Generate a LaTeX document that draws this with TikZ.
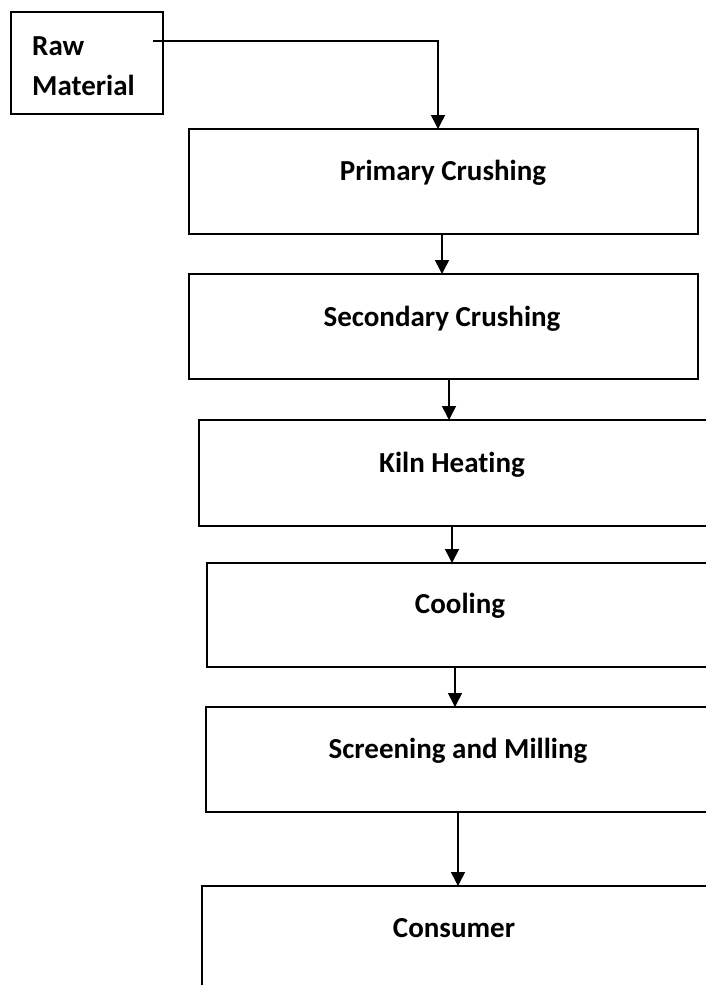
\documentclass[tikz,border=0pt]{standalone}
\usepackage{fontspec}
\setmainfont[Ligatures=NoCommon]{Carlito}
\usetikzlibrary{arrows.meta}
\begin{document}
\begin{tikzpicture}[x=1pt,y=-1pt,
  boxst/.style={draw=black,line width=2.2pt,fill=none},
  lbl/.style={font=\bfseries\fontsize{29}{40}\selectfont,anchor=base,inner sep=0pt},
  arr/.style={line width=1.6pt,-{Triangle[width=14pt,length=14pt]}}]
\useasboundingbox (0,0) rectangle (706,985);
\clip (0,0) rectangle (706,985);
\fill[white] (0,0) rectangle (706,985);
% boxes
\draw[boxst] (11,12) rectangle (163,114);
\node[inner sep=0pt,minimum size=0pt] (raw) at (87,63) {};
\draw[boxst] (189,129) rectangle (698,234);
\coordinate (primN) at (443,129); \coordinate (primS) at (443,234);
\draw[boxst] (189,274) rectangle (698,379);
\coordinate (secN) at (443,274); \coordinate (secS) at (443,379);
\draw[boxst] (199,420) rectangle (730,526);
\coordinate (kilnN) at (452,420); \coordinate (kilnS) at (452,526);
\draw[boxst] (207,563) rectangle (730,667);
\coordinate (coolN) at (455,563); \coordinate (coolS) at (455,667);
\draw[boxst] (206,707) rectangle (730,812);
\coordinate (scrN) at (458,707); \coordinate (scrS) at (458,812);
\draw[boxst] (202,1010) -- (202,886) -- (730,886);
\coordinate (conN) at (458,886);
% labels
\node[lbl,anchor=base west] (rawt1) at (32,55) {Raw};
\node[lbl,anchor=base west] (rawt2) at (32,95) {Material};
\node[lbl] (primt) at (443,180) {Primary Crushing};
\node[lbl] (sect) at (442,326) {Secondary Crushing};
\node[lbl] (kilnt) at (452,472) {Kiln Heating};
\node[lbl] (coolt) at (460,613) {Cooling};
\node[lbl] (scrt) at (458,758) {Screening and Milling};
\node[lbl] (cont) at (454,937) {Consumer};
% connectors
\coordinate (rawout) at (153,41);
\draw[arr] (rawout) -- (438,41) -- (438,0 |- primN);
\draw[arr] (442,0 |- primS) -- (442,0 |- secN);
\draw[arr] (449,0 |- secS) -- (449,0 |- kilnN);
\draw[arr] (452,0 |- kilnS) -- (452,0 |- coolN);
\draw[arr] (455,0 |- coolS) -- (455,0 |- scrN);
\draw[arr] (458,0 |- scrS) -- (458,0 |- conN);
\end{tikzpicture}
\end{document}
